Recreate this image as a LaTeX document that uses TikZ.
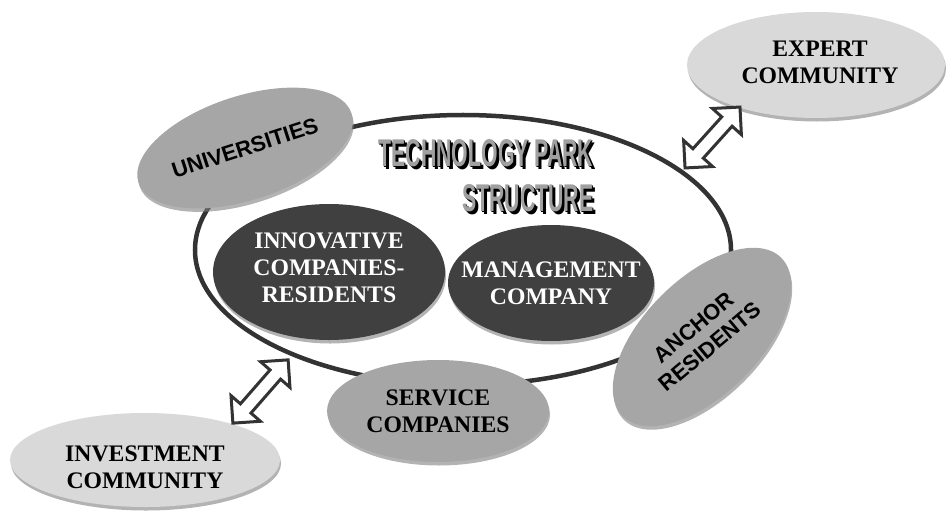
\documentclass[tikz,border=0pt]{standalone}
\usepackage{fontspec}
\setmainfont{Liberation Serif}
\setsansfont{Liberation Sans}
\usetikzlibrary{shapes.geometric}
\usetikzlibrary{shapes.arrows}
\usetikzlibrary{shadows}

\definecolor{ringline}{HTML}{333333}
\definecolor{darkblob}{HTML}{404040}
\definecolor{midblob}{HTML}{A6A6A6}
\definecolor{lightblob}{HTML}{D9D9D9}
\definecolor{titlegray}{HTML}{A0A0A0}

\begin{document}
\begin{tikzpicture}[x=0.2mm, y=-0.2mm,
        blob/.style={ellipse, inner sep=0pt, drop shadow={shadow xshift=0.2mm, shadow yshift=-0.7mm, opacity=0.6}},
        serifcap/.style={font=\rmfamily\bfseries\fontsize{13.5}{15.5}\selectfont, align=center},
        sanscap/.style={font=\sffamily\bfseries\fontsize{12.5}{14.5}\selectfont, align=center},
        titletext/.style={font=\sffamily\bfseries\fontsize{22}{25.5}\selectfont, align=right, xscale=0.55},
        twoway/.style={double arrow, draw=ringline, line width=0.6mm, fill=white, inner xsep=0pt, inner ysep=1.1mm,
            minimum width=5.8mm, minimum height=16.4mm}]
    \useasboundingbox (0,0) rectangle (950,516);
    % the park itself
    \node[ellipse, draw=ringline, line width=0.9mm, minimum width=107.2mm, minimum height=54mm] (park) at (463,250) {};
    \node[titletext, text=black] (title shade) at (489,179) {TECHNOLOGY PARK\\STRUCTURE};
    \node[titletext, text=black] (title edge) at (487,177) {TECHNOLOGY PARK\\STRUCTURE};
    \node[titletext, text=titlegray] (title) at (486,176) {TECHNOLOGY PARK\\STRUCTURE};
    % inside the park
    \node[blob, fill=darkblob, minimum width=46.4mm, minimum height=27.2mm] (innov) at (329,272) {};
    \node[serifcap, text=white] (innov text) at ([yshift=0.8mm]innov.center) {INNOVATIVE\\COMPANIES-\\RESIDENTS};
    \node[blob, fill=darkblob, minimum width=41.2mm, minimum height=23.2mm] (mgmt) at (551,283) {};
    \node[serifcap, text=white] (mgmt text) at (mgmt) {MANAGEMENT\\COMPANY};
    % on the ring
    \node[blob, fill=midblob, rotate=18, minimum width=44.8mm, minimum height=20.8mm] (univ) at (245,148) {};
    \node[sanscap, rotate=18] (univ text) at (univ) {UNIVERSITIES};
    \node[blob, fill=midblob, minimum width=44.4mm, minimum height=20.4mm] (service) at (438,411) {};
    \node[serifcap] (service text) at (service) {SERVICE\\COMPANIES};
    \node[blob, fill=midblob, rotate=45, minimum width=44.8mm, minimum height=23.2mm] (anchor) at (702,337) {};
    \node[sanscap, rotate=40] (anchor text) at (anchor) {ANCHOR\\RESIDENTS};
    % outside communities
    \node[blob, fill=lightblob, minimum width=51.6mm, minimum height=21.2mm] (expert) at (816,65) {};
    \node[serifcap] (expert text) at ([xshift=0.8mm, yshift=0.6mm]expert.center) {EXPERT\\COMMUNITY};
    \node[blob, fill=lightblob, minimum width=54mm, minimum height=18.8mm] (invest) at (145,460) {};
    \node[serifcap] (invest text) at ([yshift=-1.4mm]invest.center) {INVESTMENT\\COMMUNITY};
    % two-way links
    \coordinate (ex a) at (685,168);
    \coordinate (ex b) at (740,107);
    \path (ex a) -- (ex b) node[twoway, midway, sloped] (ex link) {};
    \coordinate (in a) at (233,423);
    \coordinate (in b) at (288,360);
    \path (in a) -- (in b) node[twoway, midway, sloped, minimum height=16.8mm] (in link) {};
\end{tikzpicture}
\end{document}
